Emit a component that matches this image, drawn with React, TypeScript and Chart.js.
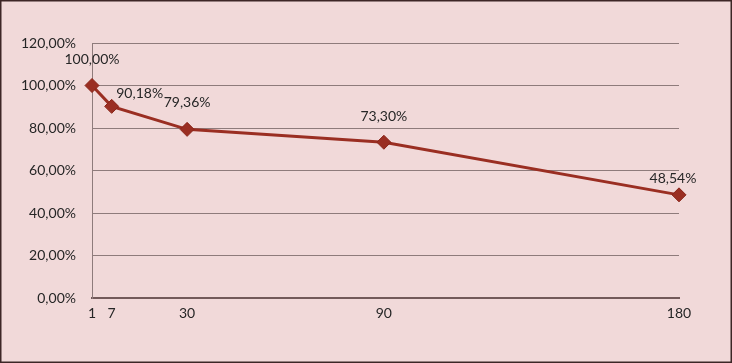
import React, { useEffect, useRef } from "react";
import { Chart, registerables } from "chart.js";

Chart.register(...registerables);

const days = [1, 7, 30, 90, 180];
const retention = [1.0, 0.9018, 0.7936, 0.733, 0.4854];
const xTicks = [1, 7, 30, 90, 180];
const labelText = ["100,00%", "90,18%", "79,36%", "73,30%", "48,54%"];

const FONT = "Lato, 'Open Sans', sans-serif";

const fmtPct = (v: number) => (v * 100).toFixed(2).replace(".", ",") + "%";

export default function App() {
  const ref = useRef<HTMLCanvasElement | null>(null);

  useEffect(() => {
    document.body.style.margin = "0";
    const canvas = ref.current;
    if (!canvas) return;

    const bgPlugin = {
      id: "bg",
      beforeDraw(chart: any) {
        const { ctx, width, height } = chart;
        ctx.save();
        ctx.fillStyle = "#f1d9d9";
        ctx.fillRect(0, 0, width, height);
        ctx.strokeStyle = "#3d2626";
        ctx.lineWidth = 1.5;
        ctx.strokeRect(0.75, 0.75, width - 1.5, height - 1.5);
        ctx.restore();
      },
    };

    const labelOffsets = [
      { dx: 0, dy: -26 },
      { dx: 28, dy: -13 },
      { dx: 0, dy: -27 },
      { dx: 0, dy: -26 },
      { dx: -6, dy: -16 },
    ];

    const labelPlugin = {
      id: "pointLabels",
      afterDatasetsDraw(chart: any) {
        const { ctx } = chart;
        const meta = chart.getDatasetMeta(0);
        ctx.save();
        ctx.font = `14px ${FONT}`;
        ctx.fillStyle = "#262626";
        ctx.textAlign = "center";
        ctx.textBaseline = "middle";
        meta.data.forEach((pt: any, i: number) => {
          const o = labelOffsets[i] || { dx: 0, dy: -26 };
          ctx.fillText(labelText[i], pt.x + o.dx, pt.y + o.dy);
        });
        ctx.restore();
      },
    };

    const chart = new Chart(canvas, {
      type: "line",
      data: {
        datasets: [
          {
            data: days.map((d, i) => ({ x: d, y: retention[i] })),
            borderColor: "#9a2e22",
            backgroundColor: "#9a2e22",
            borderWidth: 3,
            pointStyle: "rectRot",
            pointRadius: 7,
            pointBorderWidth: 1,
            pointBorderColor: "#8a2418",
            tension: 0,
            clip: false,
          },
        ],
      },
      options: {
        responsive: false,
        animation: false,
        events: [],
        layout: { padding: { left: 0, right: 53, top: 43, bottom: 0 } },
        plugins: { legend: { display: false }, tooltip: { enabled: false } },
        scales: {
          x: {
            type: "linear",
            min: 1,
            max: 180,
            afterBuildTicks: (s: any) => {
              s.ticks = xTicks.map((v) => ({ value: v }));
            },
            afterFit: (s: any) => {
              s.height = 65;
            },
            grid: { display: false, drawTicks: false },
            border: { display: true, color: "#735a5a", width: 2 },
            ticks: {
              autoSkip: false,
              maxRotation: 0,
              padding: 7,
              color: "#262626",
              font: { family: FONT, size: 14 },
              callback: (v: any) => String(v),
            },
          },
          y: {
            min: 0,
            max: 1.2,
            afterFit: (s: any) => {
              s.width = 92;
            },
            grid: { color: "#8e7b7b", drawTicks: false, lineWidth: 1 },
            border: { display: true, color: "#8e7b7b", width: 1 },
            ticks: {
              stepSize: 0.2,
              padding: 16,
              color: "#262626",
              font: { family: FONT, size: 14 },
              callback: (v: any) => fmtPct(Number(v)),
            },
          },
        },
      },
      plugins: [bgPlugin, labelPlugin],
    } as any);

    return () => chart.destroy();
  }, []);

  return <canvas ref={ref} width={732} height={363} style={{ display: "block" }} />;
}
